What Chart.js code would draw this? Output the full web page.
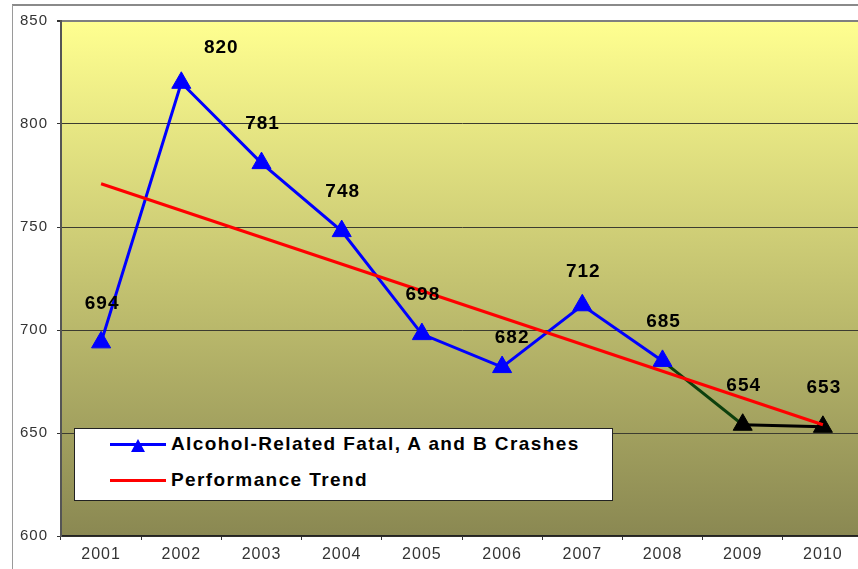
<!DOCTYPE html>
<html>
<head>
<meta charset="utf-8">
<script src="https://cdn.jsdelivr.net/npm/chart.js@4.4.0/dist/chart.umd.min.js"></script>
<style>
html,body{margin:0;padding:0;overflow:hidden;background:#fff;width:858px;height:569px;}
#wrap{position:absolute;left:0;top:0;width:875px;height:569px;}
canvas{position:absolute;left:0;top:0;}
.abs{position:absolute;}
#legendBox{left:74px;top:428px;width:539px;height:73px;box-sizing:border-box;background:#fff;border:1.5px solid #222;}
.ltext{font:bold 19px "Liberation Sans",Arial,sans-serif;letter-spacing:1.4px;color:#000;line-height:19px;white-space:nowrap;}
</style>
</head>
<body>
<div id="wrap">
  <canvas id="c" width="875" height="569"></canvas>
  <div id="legendBox" class="abs"></div>
  <div class="abs" style="left:110px;top:443px;width:56px;height:3px;background:#0000ff;"></div>
  <div class="abs" style="left:131px;top:439px;width:0;height:0;border-left:7px solid transparent;border-right:7px solid transparent;border-bottom:13px solid #0000ff;"></div>
  <div class="abs ltext" style="left:171px;top:434px;">Alcohol-Related Fatal, A and B Crashes</div>
  <div class="abs" style="left:110px;top:479px;width:56px;height:3px;background:#ff0000;"></div>
  <div class="abs ltext" style="left:171px;top:470px;">Performance Trend</div>
</div>
<script>
// ---- data ----
const years = ['2001','2002','2003','2004','2005','2006','2007','2008','2009','2010'];
const crashes = [694, 820, 781, 748, 698, 682, 712, 685, 654, 653];
const trendLine = [771, null, null, null, null, null, null, null, null, 654];
const yTickValues = [600, 650, 700, 750, 800, 850];
const seriesName = 'Alcohol-Related Fatal, A and B Crashes';
const trendName = 'Performance Trend';

// ---- plugins ----
const plotBackground = {
  id: 'plotBackground',
  beforeDraw(chart) {
    const {ctx, chartArea: a} = chart;
    ctx.save();
    // outer chart border
    ctx.strokeStyle = '#8a8a8a';
    ctx.lineWidth = 2;
    ctx.beginPath(); ctx.moveTo(12, 5); ctx.lineTo(chart.width, 5); ctx.stroke();
    ctx.lineWidth = 1;
    ctx.strokeStyle = '#9a9a9a';
    ctx.beginPath(); ctx.moveTo(12.5, 5); ctx.lineTo(12.5, chart.height); ctx.stroke();
    const g = ctx.createLinearGradient(0, a.top, 0, a.bottom);
    g.addColorStop(0, '#ffff90');
    g.addColorStop(1, '#8a8852');
    ctx.fillStyle = g;
    ctx.fillRect(a.left, a.top, a.right - a.left, a.bottom - a.top);
    ctx.restore();
    ctx.letterSpacing = '1px';
  }
};

const labelShift = {1: [39, -35], 5: [9, -29], 6: [0, -34]};
const dataLabels = {
  id: 'dataLabels',
  afterDatasetsDraw(chart) {
    const ctx = chart.ctx;
    const meta = chart.getDatasetMeta(0);
    ctx.save();
    ctx.font = 'bold 19px "Liberation Sans", Arial, sans-serif';
    ctx.letterSpacing = '1px';
    ctx.fillStyle = '#000';
    ctx.textAlign = 'center';
    ctx.textBaseline = 'middle';
    meta.data.forEach((pt, i) => {
      const s = labelShift[i] || [0, -39];
      ctx.fillText(String(crashes[i]), pt.x + s[0] + 1, pt.y + s[1]);
    });
    ctx.restore();
  }
};

const segColor = ctx => ctx.p0DataIndex === 7 ? '#0d400d' : (ctx.p0DataIndex >= 8 ? '#000000' : '#0000ff');
const ptColor = ctx => ctx.dataIndex >= 8 ? '#000000' : '#0000ff';

new Chart(document.getElementById('c'), {
  type: 'line',
  data: {
    labels: years,
    datasets: [
      {
        label: seriesName,
        data: crashes,
        borderColor: '#0000ff',
        borderWidth: 3,
        segment: {borderColor: segColor},
        pointStyle: 'triangle',
        pointRadius: 11,
        pointBorderWidth: 1,
        pointBackgroundColor: ptColor,
        pointBorderColor: ptColor,
        tension: 0,
        order: 1
      },
      {
        label: trendName,
        data: trendLine,
        borderColor: '#ff0000',
        borderWidth: 3,
        pointRadius: 0,
        spanGaps: true,
        tension: 0,
        order: 0
      }
    ]
  },
  options: {
    responsive: false,
    animation: false,
    layout: {padding: {top: 21, left: 0, right: 3, bottom: 0}},
    plugins: {legend: {display: false}, tooltip: {enabled: false}},
    scales: {
      x: {
        offset: true,
        afterFit: s => { s.height = 33; },
        grid: {offset: true, drawOnChartArea: false, drawTicks: true, tickLength: 4, tickColor: '#333', tickWidth: 1},
        border: {color: '#222', width: 1.5},
        ticks: {color: '#333', font: {family: '"Liberation Sans", Arial, sans-serif', size: 16}, padding: 5, maxRotation: 0}
      },
      y: {
        min: 600, max: 850,
        afterFit: s => { s.width = 61; },
        afterBuildTicks: s => { s.ticks = yTickValues.map(v => ({value: v})); },
        grid: {
          color: c => (c.tick && c.tick.value === 850) ? '#808080' : '#3c3c30',
          lineWidth: c => (c.tick && c.tick.value === 850) ? 2 : 1,
          tickLength: 4, tickColor: '#333', drawTicks: true
        },
        border: {color: '#555', width: 2},
        ticks: {color: '#333', font: {family: '"Liberation Sans", Arial, sans-serif', size: 15}, padding: 9}
      }
    }
  },
  plugins: [plotBackground, dataLabels]
});
</script>
</body>
</html>
